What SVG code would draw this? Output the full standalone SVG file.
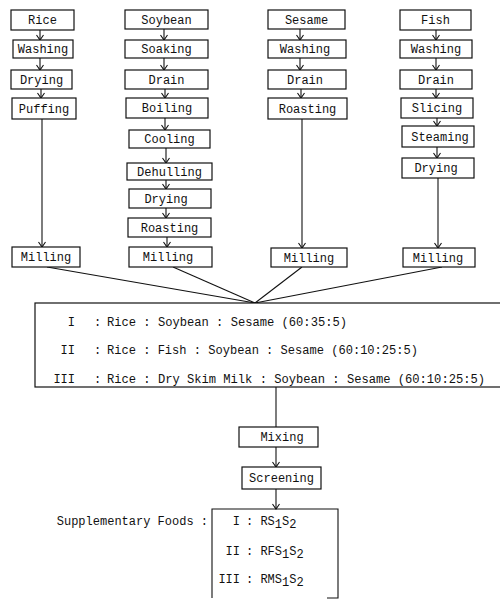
<svg xmlns="http://www.w3.org/2000/svg" width="500" height="599" viewBox="0 0 500 599">
<defs>
<style>
rect.b{fill:#fff;stroke:#111;stroke-width:1.2}
text{font-family:"Liberation Mono","DejaVu Sans Mono",monospace;font-size:12px;fill:#111}
text.c{text-anchor:middle}
text.e{text-anchor:end}
.ln{stroke:#111;stroke-width:1.1;fill:none}
.ar{stroke:#111;stroke-width:1.1;fill:none;marker-end:url(#ah)}
</style>
<marker id="ah" markerUnits="userSpaceOnUse" markerWidth="10" markerHeight="10" refX="0" refY="0" viewBox="-6 -5 8 10" orient="auto" overflow="visible">
<path d="M-5,-3.5 L0,0 L-5,3.5" fill="none" stroke="#111" stroke-width="1.1"/>
</marker>
</defs>
<rect width="500" height="599" fill="#fff"/>

<g id="connectors">
<!-- Rice column -->
<line class="ar" x1="40" y1="30" x2="40" y2="40"/>
<line class="ar" x1="40" y1="58" x2="40" y2="70"/>
<line class="ar" x1="41" y1="89" x2="41" y2="98"/>
<line class="ar" x1="42" y1="119" x2="42" y2="247"/>
<!-- Soybean column -->
<line class="ar" x1="164" y1="29" x2="164" y2="40"/>
<line class="ar" x1="164" y1="58" x2="164" y2="70"/>
<line class="ar" x1="165" y1="89" x2="165" y2="98"/>
<line class="ar" x1="165" y1="118" x2="165" y2="130"/>
<line class="ar" x1="166" y1="148" x2="166" y2="163"/>
<line class="ar" x1="166" y1="180" x2="166" y2="189"/>
<line class="ar" x1="166" y1="208" x2="166" y2="218"/>
<line class="ar" x1="167" y1="237" x2="167" y2="247"/>
<!-- Sesame column -->
<line class="ar" x1="300" y1="29" x2="300" y2="40"/>
<line class="ar" x1="300" y1="58" x2="300" y2="70"/>
<line class="ar" x1="301" y1="89" x2="301" y2="98"/>
<line class="ar" x1="302" y1="119" x2="302" y2="248"/>
<!-- Fish column -->
<line class="ar" x1="436" y1="30" x2="436" y2="40"/>
<line class="ar" x1="436" y1="58" x2="436" y2="70"/>
<line class="ar" x1="436" y1="89" x2="436" y2="98"/>
<line class="ar" x1="437" y1="118" x2="437" y2="126"/>
<line class="ar" x1="437" y1="147" x2="437" y2="158"/>
<line class="ar" x1="438" y1="178" x2="438" y2="248"/>
<!-- converging lines -->
<line class="ln" x1="47" y1="267" x2="255" y2="303"/>
<line class="ln" x1="173" y1="267" x2="255" y2="303"/>
<line class="ln" x1="302" y1="267" x2="255" y2="303"/>
<line class="ln" x1="442" y1="267" x2="255" y2="303"/>
<!-- lower flow -->
<line class="ln" x1="276" y1="387" x2="276" y2="427"/>
<line class="ar" x1="276" y1="447" x2="276" y2="467"/>
<line class="ar" x1="276" y1="489" x2="276" y2="509"/>
</g>

<g id="rice"><rect class="b" x="11" y="10" width="63" height="20"/><text class="c" x="42.5" y="24">Rice</text></g>
<g id="rice-washing"><rect class="b" x="13" y="40" width="60" height="18"/><text class="c" x="43" y="53">Washing</text></g>
<g id="rice-drying"><rect class="b" x="11" y="70" width="61" height="19"/><text class="c" x="41.5" y="84">Drying</text></g>
<g id="rice-puffing"><rect class="b" x="12" y="98" width="64" height="21"/><text class="c" x="44" y="113">Puffing</text></g>
<g id="rice-milling"><rect class="b" x="12" y="247" width="68" height="20"/><text class="c" x="46" y="261">Milling</text></g>

<g id="soybean"><rect class="b" x="125" y="10" width="83" height="19"/><text class="c" x="166.5" y="24">Soybean</text></g>
<g id="soy-soaking"><rect class="b" x="125" y="40" width="83" height="18"/><text class="c" x="166.5" y="53">Soaking</text></g>
<g id="soy-drain"><rect class="b" x="125" y="70" width="83" height="19"/><text class="c" x="166.5" y="84">Drain</text></g>
<g id="soy-boiling"><rect class="b" x="126" y="98" width="82" height="20"/><text class="c" x="167" y="112">Boiling</text></g>
<g id="soy-cooling"><rect class="b" x="129" y="130" width="81" height="18"/><text class="c" x="169.5" y="143">Cooling</text></g>
<g id="soy-dehulling"><rect class="b" x="127" y="163" width="85" height="17"/><text class="c" x="169.5" y="176">Dehulling</text></g>
<g id="soy-drying"><rect class="b" x="129" y="189" width="82" height="19"/><text class="c" x="166" y="203">Drying</text></g>
<g id="soy-roasting"><rect class="b" x="128" y="218" width="83" height="19"/><text class="c" x="169.5" y="232">Roasting</text></g>
<g id="soy-milling"><rect class="b" x="129" y="247" width="83" height="20"/><text class="c" x="168" y="261">Milling</text></g>

<g id="sesame"><rect class="b" x="268" y="10" width="77" height="19"/><text class="c" x="306.5" y="24">Sesame</text></g>
<g id="sesame-washing"><rect class="b" x="268" y="40" width="78" height="18"/><text class="c" x="305" y="53">Washing</text></g>
<g id="sesame-drain"><rect class="b" x="268" y="70" width="78" height="19"/><text class="c" x="305" y="84">Drain</text></g>
<g id="sesame-roasting"><rect class="b" x="268" y="98" width="79" height="21"/><text class="c" x="307.5" y="113">Roasting</text></g>
<g id="sesame-milling"><rect class="b" x="271" y="248" width="76" height="19"/><text class="c" x="309" y="262">Milling</text></g>

<g id="fish"><rect class="b" x="400" y="10" width="71" height="20"/><text class="c" x="435.5" y="24">Fish</text></g>
<g id="fish-washing"><rect class="b" x="400" y="40" width="72" height="18"/><text class="c" x="436" y="53">Washing</text></g>
<g id="fish-drain"><rect class="b" x="400" y="70" width="72" height="19"/><text class="c" x="436" y="84">Drain</text></g>
<g id="fish-slicing"><rect class="b" x="401" y="98" width="72" height="20"/><text class="c" x="437" y="112">Slicing</text></g>
<g id="fish-steaming"><rect class="b" x="402" y="126" width="72" height="21"/><text class="c" x="440" y="141">Steaming</text></g>
<g id="fish-drying"><rect class="b" x="402" y="158" width="72" height="20"/><text class="c" x="436" y="172">Drying</text></g>
<g id="fish-milling"><rect class="b" x="403" y="248" width="72" height="19"/><text class="c" x="438" y="262">Milling</text></g>

<g id="blends">
<rect class="b" x="35" y="303" width="470" height="84"/>
<text class="e" x="75" y="326">I</text><text x="94" y="326">:</text><text x="107" y="326" textLength="240" lengthAdjust="spacingAndGlyphs">Rice : Soybean : Sesame (60:35:5)</text>
<text class="e" x="75" y="354">II</text><text x="94" y="354">:</text><text x="107" y="354" textLength="311" lengthAdjust="spacingAndGlyphs">Rice : Fish : Soybean : Sesame (60:10:25:5)</text>
<text class="e" x="75" y="383">III</text><text x="94" y="383">:</text><text x="107" y="383" textLength="378" lengthAdjust="spacingAndGlyphs">Rice : Dry Skim Milk : Soybean : Sesame (60:10:25:5)</text>
</g>

<g id="mixing"><rect class="b" x="239" y="427" width="79" height="20"/><text class="c" x="282" y="441">Mixing</text></g>
<g id="screening"><rect class="b" x="242" y="467" width="79" height="22"/><text class="c" x="281.5" y="482">Screening</text></g>

<g id="supplementary">
<text class="e" x="208" y="525">Supplementary Foods :</text>
<path class="ln" d="M212,598 V509 H338 V598 H327"/>
<text class="e" x="240" y="525">I</text><text x="246" y="525">: RS<tspan dy="3">1</tspan><tspan dy="-3">S</tspan><tspan dy="3">2</tspan></text>
<text class="e" x="240" y="555">II</text><text x="246" y="555">: RFS<tspan dy="3">1</tspan><tspan dy="-3">S</tspan><tspan dy="3">2</tspan></text>
<text class="e" x="240" y="583">III</text><text x="246" y="583">: RMS<tspan dy="3">1</tspan><tspan dy="-3">S</tspan><tspan dy="3">2</tspan></text>
</g>
</svg>
